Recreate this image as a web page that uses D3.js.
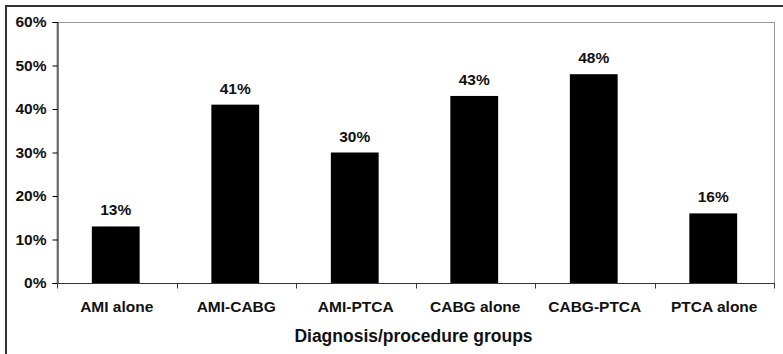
<!DOCTYPE html>
<html>
<head>
<meta charset="utf-8">
<script src="https://cdn.jsdelivr.net/npm/d3@7"></script>
<style>
  html, body { margin: 0; padding: 0; background: #fff; }
  svg { display: block; font-family: "Liberation Sans", Arial, sans-serif; font-weight: bold; }
</style>
</head>
<body>
<svg id="chart" width="783" height="354"></svg>
<script>
// Share of patients by diagnosis/procedure group
const categories = ["AMI alone", "AMI-CABG", "AMI-PTCA", "CABG alone", "CABG-PTCA", "PTCA alone"];
const values = [13, 41, 30, 43, 48, 16];
const yTicks = [0, 10, 20, 30, 40, 50, 60];
const xTitle = "Diagnosis/procedure groups";

const svg = d3.select("#chart");
const plot = { left: 57, right: 774, top: 22, bottom: 283 };

const x = d3.scaleBand().domain(categories).range([plot.left, plot.right]).padding(0);
const y = d3.scaleLinear().domain([0, 60]).range([plot.bottom, plot.top]);
const barW = x.bandwidth() * 0.4;

// outer chart frame (left and top edges)
svg.append("path")
  .attr("d", `M6,354V6H783`)
  .attr("fill", "none").attr("stroke", "#333").attr("stroke-width", 2);

// plot area border
svg.append("rect")
  .attr("x", plot.left).attr("y", plot.top + 0.5)
  .attr("width", plot.right - plot.left + 0.5).attr("height", plot.bottom - plot.top)
  .attr("fill", "none").attr("stroke", "#999").attr("stroke-width", 1);

// bars
svg.append("g").selectAll("rect").data(values).join("rect")
  .attr("x", (d, i) => x(categories[i]) + x.bandwidth() / 2 - barW / 2 - 1)
  .attr("y", d => y(d))
  .attr("width", barW)
  .attr("height", d => y(0) - y(d))
  .attr("fill", "#000");

// value labels
svg.append("g").selectAll("text").data(values).join("text")
  .attr("x", (d, i) => x(categories[i]) + x.bandwidth() / 2 - 1)
  .attr("y", d => y(d) - 11)
  .attr("text-anchor", "middle")
  .attr("font-size", 15.5)
  .attr("fill", "#111")
  .text(d => d + "%");

// y axis
const yAxis = svg.append("g")
  .attr("transform", `translate(${plot.left + 0.5},0)`)
  .call(d3.axisLeft(y).tickValues(yTicks).tickFormat(d => d + "%").tickSize(5).tickPadding(6));
yAxis.select(".domain").attr("stroke", "#000");
yAxis.selectAll(".tick line").attr("stroke", "#000");
yAxis.selectAll(".tick text")
  .attr("font-size", 15.5).attr("font-family", "Liberation Sans, Arial, sans-serif")
  .attr("font-weight", "bold").attr("fill", "#111");

// x axis: ticks at category boundaries
const xAxisG = svg.append("g").attr("transform", `translate(0,${plot.bottom + 0.5})`);
xAxisG.append("line")
  .attr("x1", plot.left).attr("x2", plot.right + 0.5)
  .attr("stroke", "#333");
const bounds = categories.map(c => x(c)).concat([plot.right]);
xAxisG.selectAll("line.tk").data(bounds).join("line")
  .attr("class", "tk")
  .attr("x1", d => Math.round(d) + 0.5).attr("x2", d => Math.round(d) + 0.5)
  .attr("y1", 0).attr("y2", 5)
  .attr("stroke", "#333");
xAxisG.selectAll("text").data(categories).join("text")
  .attr("x", d => x(d) + x.bandwidth() / 2)
  .attr("y", 28)
  .attr("text-anchor", "middle")
  .attr("font-size", 15.5)
  .attr("fill", "#111")
  .text(d => d);

// x axis title
svg.append("text")
  .attr("x", (plot.left + plot.right) / 2 - 2)
  .attr("y", 342)
  .attr("text-anchor", "middle")
  .attr("font-size", 17.5)
  .attr("fill", "#111")
  .text(xTitle);
</script>
</body>
</html>
